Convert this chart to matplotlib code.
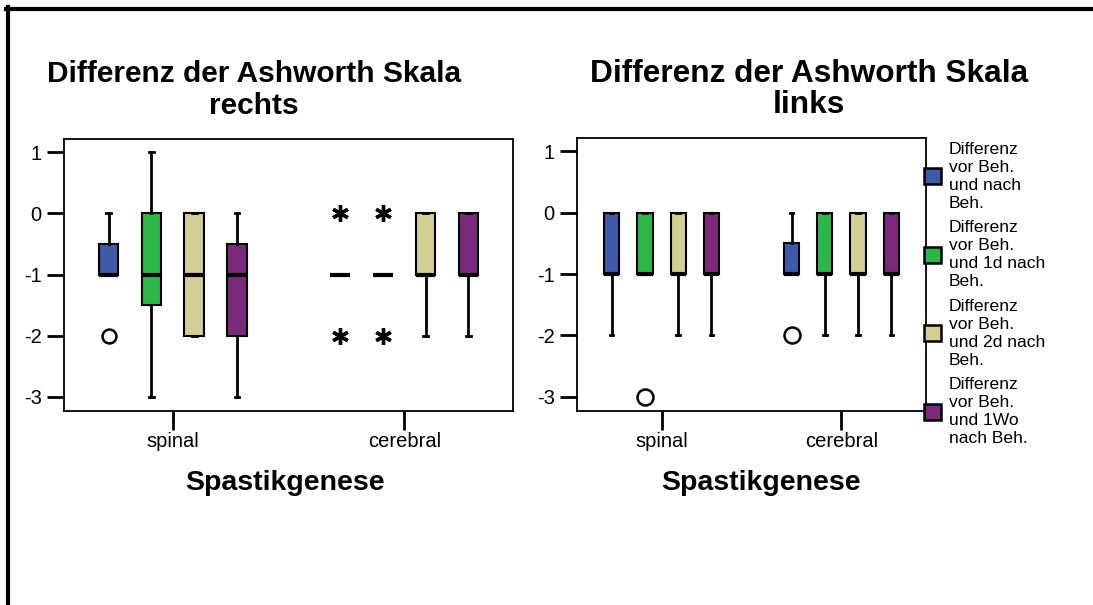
import matplotlib
matplotlib.use("Agg")
import matplotlib.pyplot as plt
from matplotlib.lines import Line2D
from matplotlib.patches import Patch

plt.rcParams['font.family'] = ['Liberation Sans', 'DejaVu Sans']
plt.rcParams['axes.unicode_minus'] = False

groups = ["spinal", "cerebral"]
series = ["Differenz\nvor Beh.\nund nach\nBeh.",
          "Differenz\nvor Beh.\nund 1d nach\nBeh.",
          "Differenz\nvor Beh.\nund 2d nach\nBeh.",
          "Differenz\nvor Beh.\nund 1Wo\nnach Beh."]
colors = ["#3f5aa8", "#2fb64a", "#d3cd96", "#7b2a7b"]
yticks = [1, 0, -1, -2, -3]

# (whislo, q1, med, q3, whishi) per group, per series
rechts = [
    [(-1, -1, -1, -0.5, 0), (-3, -1.5, -1, 0, 1), (-2, -2, -1, 0, 0), (-3, -2, -1, -0.5, 0)],
    [(-1, -1, -1, -1, -1), (-1, -1, -1, -1, -1), (-2, -1, -1, 0, 0), (-2, -1, -1, 0, 0)],
]
links = [
    [(-2, -1, -1, 0, 0), (-1, -1, -1, 0, 0), (-2, -1, -1, 0, 0), (-2, -1, -1, 0, 0)],
    [(-1, -1, -1, -0.5, 0), (-2, -1, -1, 0, 0), (-2, -1, -1, 0, 0), (-2, -1, -1, 0, 0)],
]
# outliers (circles) and extremes (asterisks): (group, series, value)
rechts_out = [(0, 0, -2)]
rechts_ext = [(1, 0, 0), (1, 0, -2), (1, 1, 0), (1, 1, -2)]
links_out = [(0, 1, -3), (1, 0, -2)]
links_ext = []

offsets = [-0.2775, -0.0925, 0.0925, 0.2775]

W, H = 1093, 605
fig = plt.figure(figsize=(W / 100, H / 100), dpi=100)


def draw(ax, data, outl, extr, ms):
    stats, pos, cols = [], [], []
    for g, grp in enumerate(data):
        for s, (lo, q1, med, q3, hi) in enumerate(grp):
            stats.append(dict(whislo=lo, q1=q1, med=med, q3=q3, whishi=hi, fliers=[]))
            pos.append(g + offsets[s])
            cols.append(colors[s])
    bp = ax.bxp(stats, positions=pos, widths=0.085, patch_artist=True, showfliers=False,
                capwidths=0.02,
                boxprops=dict(edgecolor='black', linewidth=1.5),
                medianprops=dict(color='black', linewidth=3, solid_capstyle='butt'),
                whiskerprops=dict(color='black', linewidth=2),
                capprops=dict(color='black', linewidth=2))
    for b, c in zip(bp['boxes'], cols):
        b.set_facecolor(c)
    for g, s, v in outl:
        ax.plot(g + offsets[s], v, 'o', ms=ms, mfc='white', mec='black', mew=1.8)
    for g, s, v in extr:
        ax.plot(g + offsets[s], v, marker=(6, 2, 0), ms=12, color='black', mew=2.4)
    ax.set_xlim(-0.47, 1.47)
    ax.set_ylim(-3.23, 1.215)
    ax.set_yticks(yticks)
    ax.set_xticks([0, 1])
    ax.set_xticklabels(groups)
    ax.tick_params(axis='y', length=12, width=2, labelsize=14.5, pad=4)
    ax.tick_params(axis='x', length=14, width=2, labelsize=14.5, pad=1)
    for sp in ax.spines.values():
        sp.set_linewidth(1.3)


ax1 = fig.add_axes([64 / W, 1 - 411 / H, 449 / W, 272 / H])
draw(ax1, rechts, rechts_out, rechts_ext, 10)
ax2 = fig.add_axes([577 / W, 1 - 411 / H, 349 / W, 273 / H])
draw(ax2, links, links_out, links_ext, 11.5)

# titles
fig.text(254 / W, 1 - 82 / H, "Differenz der Ashworth Skala", ha='center', va='baseline',
         fontsize=21.5, fontweight='bold')
fig.text(254 / W, 1 - 114 / H, "rechts", ha='center', va='baseline', fontsize=21.5, fontweight='bold')
fig.text(809 / W, 1 - 82 / H, "Differenz der Ashworth Skala", ha='center', va='baseline',
         fontsize=22.8, fontweight='bold')
fig.text(809 / W, 1 - 113 / H, "links", ha='center', va='baseline', fontsize=22.8, fontweight='bold')

# x axis labels
fig.text(285 / W, 1 - 490 / H, "Spastikgenese", ha='center', va='baseline', fontsize=20.5, fontweight='bold')
fig.text(761 / W, 1 - 490 / H, "Spastikgenese", ha='center', va='baseline', fontsize=20.5, fontweight='bold')

# legend
handles = [Patch(facecolor=c, edgecolor='black', linewidth=1.8) for c in colors]
leg = fig.legend(handles, series, loc='center left', bbox_to_anchor=(915 / W, 1 - 294 / H),
                 frameon=False, fontsize=12.6, borderpad=0, handlelength=1.0, handleheight=1.0,
                 handletextpad=0.45, labelspacing=0.55)
for t in leg.get_texts():
    t.set_linespacing(1.25)

# frame
fig.add_artist(Line2D([8 / W, 8 / W], [0, 1 - 7 / H], color='black', linewidth=3, transform=fig.transFigure))
fig.add_artist(Line2D([6 / W, 1], [1 - 9 / H, 1 - 9 / H], color='black', linewidth=3, transform=fig.transFigure))

fig.savefig("out.png", dpi=100)
